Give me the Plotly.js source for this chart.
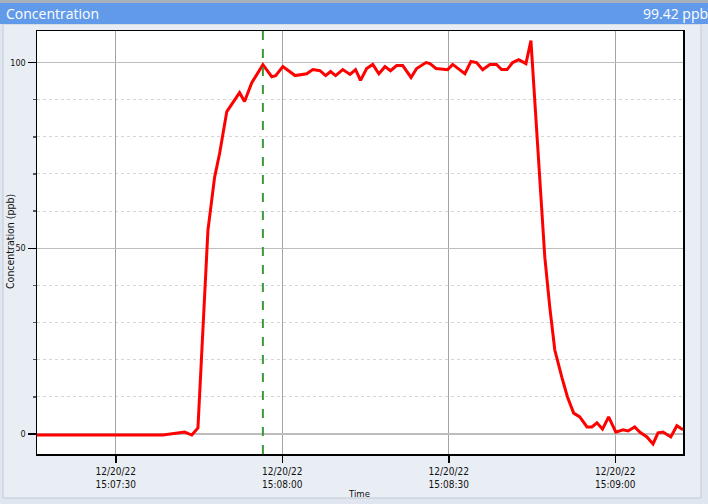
<!DOCTYPE html>
<html>
<head>
<meta charset="utf-8">
<script src="https://cdn.plot.ly/plotly-3.0.1.min.js"></script>
<style>
  html, body { margin: 0; padding: 0; background: #dfe6ef; }
  #chart { width: 708px; height: 504px; }
</style>
</head>
<body>
<div id="chart"></div>
<script>
var DAY = "2022-12-20 ";
var TIMES = [
  "15:07:15.5", "15:07:38.5", "15:07:42.4", "15:07:43.7", "15:07:44.8", "15:07:46.6",
  "15:07:47.8", "15:07:48.7", "15:07:50.0", "15:07:52.3", "15:07:53.2", "15:07:54.5",
  "15:07:56.5", "15:07:58.1", "15:07:58.8", "15:08:00.1", "15:08:02.3", "15:08:04.4",
  "15:08:05.5", "15:08:06.8", "15:08:07.8", "15:08:08.7", "15:08:09.6", "15:08:10.9",
  "15:08:12.2", "15:08:13.2", "15:08:14.1", "15:08:15.2", "15:08:16.3", "15:08:17.4",
  "15:08:18.5", "15:08:19.5", "15:08:20.6", "15:08:21.7", "15:08:23.2", "15:08:24.2",
  "15:08:25.9", "15:08:26.6", "15:08:27.7", "15:08:29.8", "15:08:30.7", "15:08:31.6",
  "15:08:32.9", "15:08:34.0", "15:08:35.0", "15:08:36.1", "15:08:37.4", "15:08:38.6",
  "15:08:39.5", "15:08:40.5", "15:08:41.5", "15:08:42.6", "15:08:43.9", "15:08:44.8",
  "15:08:46.4", "15:08:47.3", "15:08:48.2", "15:08:49.1", "15:08:50.4", "15:08:51.4",
  "15:08:52.5", "15:08:53.6", "15:08:54.9", "15:08:55.8", "15:08:56.7", "15:08:57.7",
  "15:08:58.8", "15:09:00.1", "15:09:01.4", "15:09:02.3", "15:09:03.5", "15:09:04.4",
  "15:09:05.7", "15:09:06.8", "15:09:07.7", "15:09:08.6", "15:09:10.0", "15:09:11.1",
  "15:09:12.2"
];
var PPB = [
  -0.3, -0.3, 0.5, -0.3, 1.6, 54.8,
  69.1, 75.5, 86.8, 91.9, 89.5, 94.6,
  99.42, 96.2, 96.5, 98.9, 96.5, 97.0,
  98.1, 97.8, 96.5, 97.6, 96.5, 98.1,
  96.8, 98.1, 95.2, 98.4, 99.5, 97.0,
  98.9, 97.8, 99.2, 99.2, 96.0, 98.4,
  100.0, 99.7, 98.4, 98.1, 99.5, 98.4,
  97.0, 100.3, 100.0, 98.1, 99.5, 99.5,
  98.1, 98.1, 100.0, 100.8, 99.7, 105.9,
  70.2, 47.6, 34.1, 22.6, 15.1, 9.9,
  5.6, 4.6, 1.9, 1.9, 3.0, 1.3,
  4.6, 0.5, 1.1, 0.8, 1.9, 0.5,
  -0.8, -2.7, 0.3, 0.5, -0.8, 2.2,
  1.1
];
var TICK_TIMES = ["15:07:30", "15:08:00", "15:08:30", "15:09:00"];
var TICK_LABELS = ["12/20/22<br>15:07:30", "12/20/22<br>15:08:00", "12/20/22<br>15:08:30", "12/20/22<br>15:09:00"];
var Y_TICKS = [0, 50, 100];
var CURSOR_TIME = "15:07:56.5";
var CURSOR_VALUE = "99.42 ppb";
var TITLE = "Concentration";
var X_TITLE = "Time";
var Y_TITLE = "Concentration (ppb)";

var NARROW = "Liberation Sans Narrow, DejaVu Sans Condensed, Liberation Sans, sans-serif";

// plot box in pixels
var L = 37, R = 683, T = 31, B = 454;
function px(x) { return (x - L) / (R - L); }
function py(y) { return (B - y) / (B - T); }

var trace = {
  x: TIMES.map(function (t) { return DAY + t; }),
  y: PPB,
  type: "scatter",
  mode: "lines",
  line: { color: "#ff0000", width: 3 },
  hoverinfo: "skip"
};

function band(x0, x1, y0, y1, color) {
  return { type: "rect", xref: "paper", yref: "paper", x0: px(x0), x1: px(x1), y0: py(y0), y1: py(y1),
    fillcolor: color, line: { width: 0 }, layer: "below" };
}

var layout = {
  width: 708,
  height: 504,
  margin: { l: L, r: 708 - R, t: T, b: 504 - B, pad: 0 },
  paper_bgcolor: "#e9eef4",
  plot_bgcolor: "#ffffff",
  showlegend: false,
  font: { family: NARROW, size: 9, color: "#111" },
  xaxis: {
    type: "date",
    range: [DAY + "15:07:15.8", DAY + "15:09:12.2"],
    tickvals: TICK_TIMES.map(function (t) { return DAY + t; }),
    ticktext: TICK_LABELS,
    ticks: "outside",
    ticklen: 7,
    tickcolor: "#000",
    tickwidth: 1.5,
    tickfont: { family: NARROW, size: 10, color: "#111" },
    showgrid: true,
    gridcolor: "#a4a4a4",
    gridwidth: 1,
    showline: true,
    linecolor: "#000",
    linewidth: 1.5,
    mirror: true,
    zeroline: false
  },
  yaxis: {
    range: [-5.4, 108.5],
    tickvals: Y_TICKS,
    ticks: "outside",
    ticklen: 8,
    tickcolor: "#000",
    tickwidth: 1.5,
    tickfont: { family: NARROW, size: 9, color: "#111" },
    showgrid: true,
    gridcolor: "#bdbdbd",
    gridwidth: 1.5,
    minor: {
      dtick: 10,
      tick0: 0,
      ticks: "outside",
      ticklen: 3,
      tickcolor: "#555",
      showgrid: true,
      gridcolor: "#d6d6d6",
      griddash: "dot",
      gridwidth: 1
    },
    showline: true,
    linecolor: "#000",
    linewidth: 1.5,
    mirror: true,
    zeroline: false
  },
  shapes: [
    // outer frame strips around the panel
    band(-5, 3, -5, 510, "#dfe6ef"),
    band(701, 713, -5, 510, "#dfe6ef"),
    band(-5, 713, 498, 510, "#dfe6ef"),
    { type: "rect", xref: "paper", yref: "paper", x0: px(3), x1: px(701), y0: py(24), y1: py(498),
      fillcolor: "rgba(0,0,0,0)", line: { color: "#c2cad4", width: 1 }, layer: "below" },
    // header bar
    { type: "rect", xref: "paper", yref: "paper", x0: px(-5), x1: px(713), y0: py(3), y1: py(-5),
      fillcolor: "#a7b1bc", line: { width: 0 } },
    { type: "rect", xref: "paper", yref: "paper", x0: px(-5), x1: px(713), y0: py(24), y1: py(3),
      fillcolor: "#629aea", line: { width: 0 } },
    // cursor line
    { type: "line", xref: "x", yref: "paper", x0: DAY + CURSOR_TIME, x1: DAY + CURSOR_TIME, y0: 0, y1: 1,
      line: { color: "#3a9a3a", width: 2, dash: "dash" } }
  ],
  annotations: [
    { xref: "paper", yref: "paper", x: px(4), y: py(13.5), xanchor: "left", yanchor: "middle",
      text: TITLE, showarrow: false, font: { family: "Open Sans, sans-serif", size: 14, color: "#ffffff" } },
    { xref: "paper", yref: "paper", x: px(710), y: py(13.5), xanchor: "right", yanchor: "middle",
      text: CURSOR_VALUE, showarrow: false, font: { family: "Open Sans, sans-serif", size: 14, color: "#ffffff" } },
    { xref: "paper", yref: "paper", x: px(359), y: py(493), xanchor: "center", yanchor: "middle",
      text: X_TITLE, showarrow: false, font: { family: NARROW, size: 9.5, color: "#111" } },
    { xref: "paper", yref: "paper", x: px(10), y: py(242), xanchor: "center", yanchor: "middle", textangle: -90,
      text: Y_TITLE, showarrow: false, font: { family: NARROW, size: 10.5, color: "#111" } }
  ]
};

Plotly.newPlot("chart", [trace], layout, { displayModeBar: false, staticPlot: true });
</script>
</body>
</html>
